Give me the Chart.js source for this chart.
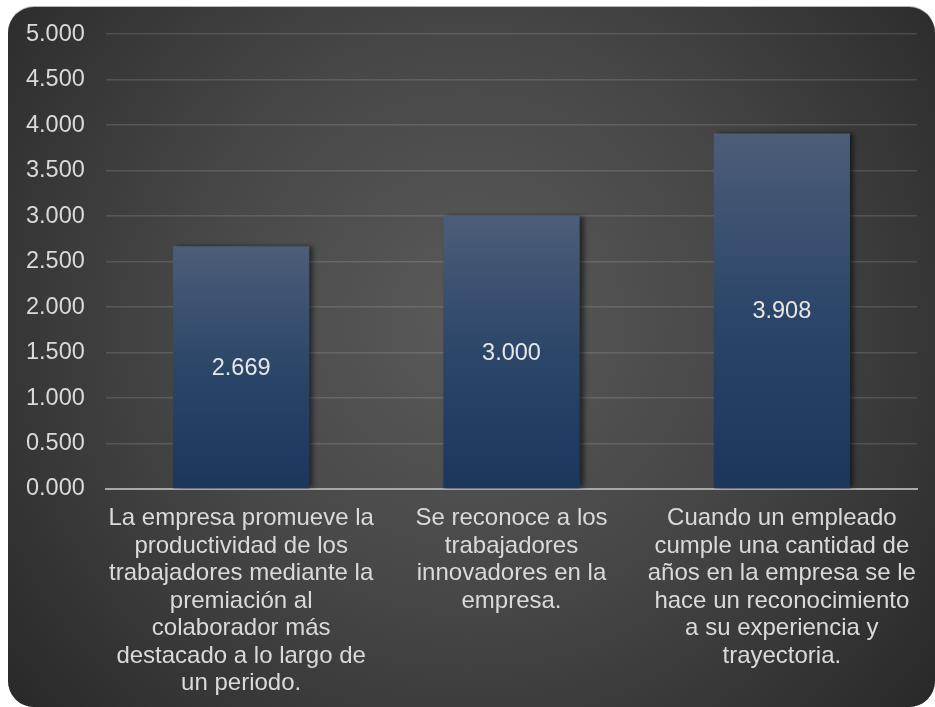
<!DOCTYPE html>
<html>
<head>
<meta charset="utf-8">
<script src="https://cdn.jsdelivr.net/npm/chart.js@4/dist/chart.umd.min.js"></script>
<style>
  html, body { margin: 0; padding: 0; background: #ffffff; }
  #wrap { width: 935px; height: 707px; position: relative; }
</style>
</head>
<body>
<div id="wrap"><canvas id="chart"></canvas></div>
<script>
// Category labels, already broken into lines
const categories = [
    ["La empresa promueve la", "productividad de los", "trabajadores mediante la", "premiación al", "colaborador más", "destacado a lo largo de", "un periodo."],
    ["Se reconoce a los", "trabajadores", "innovadores en la", "empresa."],
    ["Cuando un empleado", "cumple una cantidad de", "años en la empresa se le", "hace un reconocimiento", "a su experiencia y", "trayectoria."]
];
const values = [2.669, 3.000, 3.908];
const axisMin = 0;
const axisMax = 5;
const axisStep = 0.5;

const FONT = "'Liberation Sans', Arial, sans-serif";
const TEXT = '#dadada';

// dark rounded panel with a soft radial light behind the plot
const panelBackground = {
    id: 'panelBackground',
    beforeDraw(chart) {
        const ctx = chart.ctx;
        const x = 8, y = 7, w = chart.width - 8, h = chart.height - 7, r = 26;
        ctx.save();
        ctx.fillStyle = '#b8b8b8';
        ctx.beginPath();
        ctx.roundRect(x, y - 1, w, h + 1, r);
        ctx.fill();
        const g = ctx.createRadialGradient(470, 320, 0, 470, 320, 620);
        g.addColorStop(0, '#5a5a5a');
        g.addColorStop(0.45, '#474747');
        g.addColorStop(1, '#272727');
        ctx.fillStyle = g;
        ctx.beginPath();
        ctx.roundRect(x, y, w, h, r);
        ctx.fill();
        ctx.restore();
    }
};

// drop shadow to the right of each bar
const barShadow = {
    id: 'barShadow',
    beforeDatasetsDraw(chart) {
        const ctx = chart.ctx;
        ctx.save();
        ctx.shadowColor = 'rgba(0, 0, 0, 0.55)';
        ctx.shadowBlur = 5;
        ctx.shadowOffsetX = 4;
        ctx.shadowOffsetY = 0;
    },
    afterDatasetsDraw(chart) {
        chart.ctx.restore();
    }
};

// value printed in the middle of each bar
const barValues = {
    id: 'barValues',
    afterDatasetsDraw(chart) {
        const ctx = chart.ctx;
        const meta = chart.getDatasetMeta(0);
        ctx.save();
        ctx.font = '23.5px ' + FONT;
        ctx.fillStyle = '#e6e6e6';
        ctx.textAlign = 'center';
        ctx.textBaseline = 'middle';
        meta.data.forEach((bar, i) => {
            const v = chart.data.datasets[0].data[i];
            ctx.fillText(v.toFixed(3), bar.x, (bar.y + bar.base) / 2 + 1);
        });
        ctx.restore();
    }
};

function barGradient(context) {
    const chart = context.chart;
    if (!chart.chartArea) return '#2e4a6e';
    const yScale = chart.scales.y;
    const top = yScale.getPixelForValue(context.raw);
    const bottom = yScale.getPixelForValue(0);
    const g = chart.ctx.createLinearGradient(0, top, 0, bottom);
    g.addColorStop(0, '#4c5d78');
    g.addColorStop(0.5, '#2c4669');
    g.addColorStop(1, '#1b355d');
    return g;
}

new Chart(document.getElementById('chart'), {
    type: 'bar',
    data: {
        labels: categories,
        datasets: [{
            data: values,
            backgroundColor: barGradient,
            borderWidth: 0,
            categoryPercentage: 1,
            barPercentage: 0.504,
        }]
    },
    options: {
        responsive: true,
        maintainAspectRatio: false,
        animation: false,
        layout: {
            padding: { left: 26, right: 18, top: 27, bottom: 0 }
        },
        plugins: {
            legend: { display: false },
            tooltip: { enabled: false },
        },
        scales: {
            x: {
                grid: { display: false, drawTicks: false },
                border: { display: true, color: '#a8a8a8', width: 2 },
                ticks: {
                    color: TEXT,
                    font: { family: FONT, size: 24, lineHeight: 1.146 },
                    padding: 16,
                    maxRotation: 0,
                    autoSkip: false,
                },
                afterFit(scale) { scale.height = 218; }
            },
            y: {
                min: axisMin,
                max: axisMax,
                grid: {
                    drawTicks: false,
                    lineWidth: 1.5,
                    color: ctx => ctx.tick && ctx.tick.value === 0 ? 'rgba(0,0,0,0)' : 'rgba(255,255,255,0.13)',
                },
                border: { display: false },
                ticks: {
                    stepSize: axisStep,
                    color: TEXT,
                    font: { family: FONT, size: 23.5 },
                    crossAlign: 'far',
                    padding: 20,
                    callback: v => v.toFixed(3),
                },
                afterFit(scale) { scale.width = 80; }
            }
        }
    },
    plugins: [panelBackground, barShadow, barValues]
});
</script>
</body>
</html>
